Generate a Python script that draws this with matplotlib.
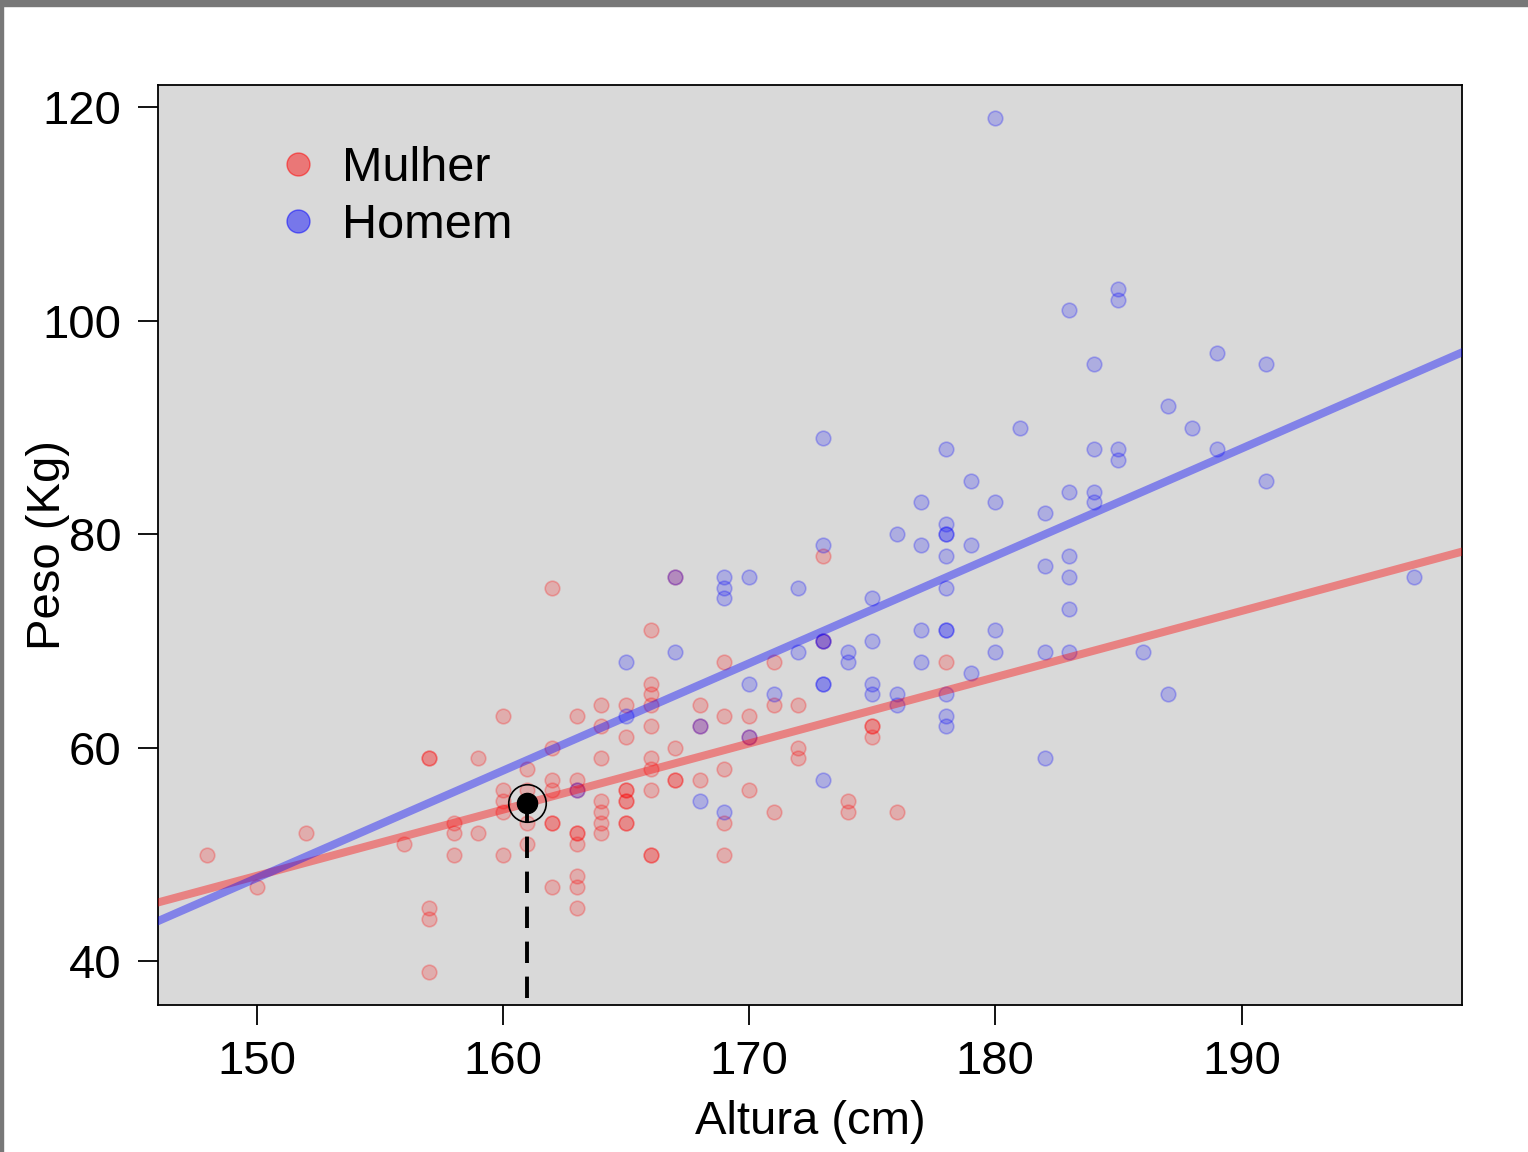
import numpy as np
import matplotlib.pyplot as plt
from matplotlib.patches import Rectangle
from matplotlib.lines import Line2D

plt.rcParams['font.family'] = ['Liberation Sans', 'DejaVu Sans']

# Mulher (height cm, weight kg)
alt_m = [148, 150, 152, 156, 157, 157, 157, 157, 157, 158, 158, 158, 159, 159,
         160, 160, 160, 160, 160, 161, 161, 161, 161,
         162, 162, 162, 162, 162, 162, 162,
         163, 163, 163, 163, 163, 163, 163, 163, 163,
         164, 164, 164, 164, 164, 164, 164,
         165, 165, 165, 165, 165, 165, 165, 165,
         166, 166, 166, 166, 166, 166, 166, 166, 166, 166,
         167, 167, 167, 167, 168, 168, 168, 169, 169, 169, 169, 169,
         170, 170, 170, 171, 171, 171, 172, 172, 172, 173, 173,
         174, 174, 175, 175, 175, 176, 178]
peso_m = [50, 47, 52, 51, 59, 59, 45, 44, 39, 53, 52, 50, 59, 52,
          63, 56, 55, 54, 50, 58, 56, 53, 51,
          75, 60, 57, 56, 53, 53, 47,
          63, 57, 56, 52, 52, 51, 48, 47, 45,
          64, 62, 59, 55, 54, 53, 52,
          64, 61, 56, 56, 55, 55, 53, 53,
          71, 66, 65, 64, 62, 59, 58, 56, 50, 50,
          76, 60, 57, 57, 64, 62, 57, 68, 63, 58, 53, 50,
          63, 61, 56, 68, 64, 54, 64, 60, 59, 78, 70,
          55, 54, 62, 62, 61, 54, 68]

# Homem
alt_h = [163, 165, 165, 167, 167, 168, 168, 169, 169, 169, 169,
         170, 170, 170, 171, 172, 172,
         173, 173, 173, 173, 173, 173, 173, 174, 174, 175, 175, 175, 175,
         176, 176, 176, 177, 177, 177, 177,
         178, 178, 178, 178, 178, 178, 178, 178, 178, 178, 178,
         179, 179, 179, 180, 180, 180, 180, 181, 182, 182, 182, 182,
         183, 183, 183, 183, 183, 183, 184, 184, 184, 184,
         185, 185, 185, 185, 186, 187, 187, 188, 189, 189, 191, 191, 197]
peso_h = [56, 68, 63, 76, 69, 62, 55, 76, 75, 74, 54,
          76, 66, 61, 65, 75, 69,
          89, 79, 70, 70, 66, 66, 57, 69, 68, 74, 70, 66, 65,
          80, 65, 64, 83, 79, 71, 68,
          88, 81, 80, 80, 78, 75, 71, 71, 65, 63, 62,
          85, 79, 67, 119, 83, 71, 69, 90, 82, 77, 69, 59,
          101, 84, 78, 76, 73, 69, 96, 88, 84, 83,
          103, 102, 88, 87, 69, 92, 65, 90, 97, 88, 96, 85, 76]

alt_destaque = 161

fig = plt.figure(figsize=(15.28, 11.52), dpi=100)
ax = fig.add_axes([0.1034, 0.1276, 0.8534, 0.7986])
ax.set_facecolor('#d9d9d9')

ax.scatter(alt_m, peso_m, s=110, facecolor=(1, 0, 0, 0.2), edgecolor=(1, 0, 0, 0.25), linewidth=1.2, zorder=2)
ax.scatter(alt_h, peso_h, s=110, facecolor=(0, 0, 1, 0.2), edgecolor=(0, 0, 1, 0.25), linewidth=1.2, zorder=2)

# regression lines
xs = np.array([140, 205])
bm = np.polyfit(alt_m, peso_m, 1)
bh = np.polyfit(alt_h, peso_h, 1)
ax.plot(xs, np.polyval(bm, xs), color=(1, 0, 0, 0.4), lw=5.8, solid_capstyle='butt', zorder=3)
ax.plot(xs, np.polyval(bh, xs), color=(0, 0, 1, 0.4), lw=5.8, solid_capstyle='butt', zorder=3)

y_dest = np.polyval(bm, alt_destaque)
ax.plot([alt_destaque, alt_destaque], [30, y_dest], color='black', lw=2.8, ls=(0, (5.5, 3.5)), zorder=4)
ax.plot(alt_destaque, y_dest, 'o', color='black', ms=14.5, zorder=5)
ax.plot(alt_destaque, y_dest, 'o', mfc='none', mec='black', ms=27, mew=1.2, zorder=5)

ax.set_xlim(146.0, 198.95)
ax.set_ylim(35.9, 122.1)
ax.set_xticks([150, 160, 170, 180, 190])
ax.set_yticks([40, 60, 80, 100, 120])
ax.tick_params(axis='both', length=14.5, width=1.3, labelsize=34)
ax.tick_params(axis='y', pad=12)
ax.tick_params(axis='x', pad=11)
for s in ax.spines.values():
    s.set_linewidth(1.3)
ax.set_xlabel('Altura (cm)', fontsize=34, labelpad=11)
ax.set_ylabel('Peso (Kg)', fontsize=34, labelpad=-20)

handles = [Line2D([], [], ls='none', marker='o', ms=16.5, mfc=(1, 0, 0, 0.45), mec=(1, 0, 0, 0.5)),
           Line2D([], [], ls='none', marker='o', ms=16.5, mfc=(0, 0, 1, 0.45), mec=(0, 0, 1, 0.5))]
ax.legend(handles, ['Mulher', 'Homem'], loc='upper left', bbox_to_anchor=(0.089, 0.934),
          frameon=False, fontsize=35, handlelength=1.0, handletextpad=0.4, labelspacing=0.25,
          borderpad=0, borderaxespad=0)

# grey screenshot frame
fig.patches.append(Rectangle((0, 1 - 6 / 1152), 1, 6 / 1152, transform=fig.transFigure, color='#787878', zorder=10))
fig.patches.append(Rectangle((0, 0), 3.5 / 1528, 1, transform=fig.transFigure, color='#787878', zorder=10))

fig.savefig('out.png', dpi=100)
